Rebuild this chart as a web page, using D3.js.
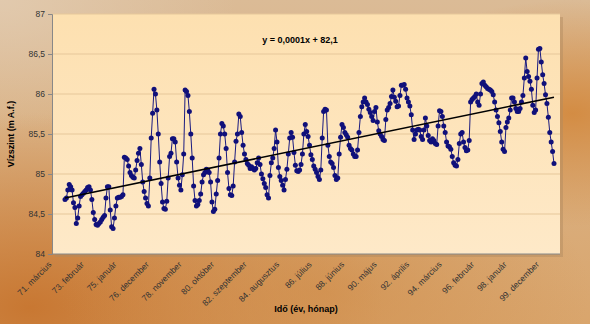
<!DOCTYPE html>
<html><head><meta charset="utf-8">
<script src="https://cdn.jsdelivr.net/npm/d3@7/dist/d3.min.js"></script>
<style>html,body{margin:0;padding:0;background:#d9b287;}svg{display:block;}</style>
</head><body>
<svg id="chart" width="590" height="324"></svg>
<script>
// ---- data ----
const values = [
84.68,84.70,84.80,84.87,84.84,84.80,84.64,84.58,84.38,84.45,
84.60,84.72,84.74,84.76,84.78,84.80,84.83,84.84,84.80,84.68,
84.52,84.43,84.37,84.36,84.38,84.40,84.43,84.46,84.48,84.70,
84.84,84.84,84.55,84.34,84.32,84.45,84.60,84.70,84.71,84.71,
84.72,84.74,85.21,85.20,85.18,85.10,85.02,84.98,84.96,84.95,
85.05,85.17,85.26,85.32,85.12,84.90,84.78,84.70,84.63,84.60,
84.95,85.45,85.76,86.06,86.00,85.80,85.50,85.15,84.88,84.65,
84.57,84.56,84.66,84.95,85.22,85.26,85.44,85.44,85.40,85.15,
84.95,84.86,84.80,84.99,85.25,86.05,86.03,85.98,85.78,85.50,
85.20,84.85,84.67,84.60,84.62,84.67,84.75,84.90,84.99,85.02,
85.06,85.05,85.02,84.90,84.65,84.53,84.56,84.75,84.92,85.20,
85.50,85.63,85.60,85.50,85.32,85.02,84.82,84.74,84.73,84.85,
85.15,85.41,85.50,85.75,85.72,85.52,85.36,85.25,85.18,85.13,
85.11,85.07,85.09,85.07,85.05,85.07,85.14,85.20,85.12,85.00,
84.94,84.88,84.83,84.74,84.70,84.98,85.14,85.20,85.32,85.55,
85.40,85.08,84.97,84.92,84.86,84.80,84.93,85.06,85.25,85.45,
85.52,85.46,85.27,85.11,85.04,85.03,85.05,85.12,85.25,85.50,
85.62,85.53,85.47,85.36,85.24,85.18,85.10,85.06,85.02,84.97,
84.93,85.05,85.45,85.78,85.81,85.80,85.36,85.22,85.15,85.13,
85.08,84.98,84.93,84.95,85.25,85.46,85.62,85.58,85.52,85.49,
85.46,85.36,85.32,85.30,85.25,85.22,85.22,85.30,85.52,85.72,
85.84,85.90,85.95,85.90,85.87,85.81,85.77,85.72,85.67,85.78,
85.83,85.65,85.54,85.50,85.47,85.43,85.42,85.68,85.80,85.83,
85.88,85.97,86.05,85.96,85.91,85.84,85.85,85.98,86.11,86.11,
86.12,86.06,85.95,85.90,85.85,85.74,85.55,85.43,85.50,85.55,
85.56,85.55,85.47,85.43,85.55,85.70,85.60,85.48,85.42,85.40,
85.44,85.42,85.38,85.37,85.60,85.79,85.78,85.72,85.60,85.52,
85.40,85.35,85.34,85.31,85.22,85.14,85.11,85.10,85.18,85.38,
85.50,85.52,85.40,85.33,85.29,85.30,85.42,85.90,85.93,85.95,
85.97,86.00,85.90,85.86,86.00,86.13,86.15,86.11,86.09,86.07,
86.06,86.05,86.03,85.99,85.90,85.80,85.72,85.64,85.53,85.40,
85.31,85.28,85.58,85.65,85.70,85.80,85.95,85.95,85.90,85.82,
85.78,85.78,85.82,85.90,85.98,86.20,86.45,86.28,86.22,86.16,
86.06,85.86,85.77,85.80,86.20,86.56,86.57,86.40,86.24,86.13,
85.99,85.88,85.71,85.52,85.40,85.28,85.13
];
const tickIndex = [0,23,46,69,92,115,138,161,184,207,230,253,276,299,322,345];
const tickLabels = ["71. március","73. február","75. január","76. december","78. november",
  "80. október","82. szeptember","84. augusztus","86. július","88. június","90. május",
  "92. április","94. március","96. február","98. január","99. december"];
const yTicks = [84,84.5,85,85.5,86,86.5,87];
const trendEnds = [84.70, 85.96];
const equation = "y = 0,0001x + 82,1";
const yTitle = "Vízszint (m A.f.)";
const xTitle = "Idő (év, hónap)";

// ---- drawing ----
const svg = d3.select("#chart");
const W = 590, H = 324;
const plot = {l:52, r:560, t:14, b:254};
const defs = svg.append("defs");

const bg = defs.append("linearGradient").attr("id","bgLin").attr("x1",0).attr("y1",0).attr("x2",0).attr("y2",1);
bg.append("stop").attr("offset","0%").attr("stop-color","#dbbb96");
bg.append("stop").attr("offset","100%").attr("stop-color","#d9a56c");
const r1 = defs.append("radialGradient").attr("id","rg1").attr("cx","0.05").attr("cy","0.95").attr("r","0.6");
r1.append("stop").attr("offset","0%").attr("stop-color","#c7752f").attr("stop-opacity",0.95);
r1.append("stop").attr("offset","100%").attr("stop-color","#c7752f").attr("stop-opacity",0);
const r2 = defs.append("radialGradient").attr("id","rg2").attr("cx","0.97").attr("cy","0.35").attr("r","0.35");
r2.append("stop").attr("offset","0%").attr("stop-color","#d38a40").attr("stop-opacity",0.95);
r2.append("stop").attr("offset","100%").attr("stop-color","#d38a40").attr("stop-opacity",0);
const r3 = defs.append("radialGradient").attr("id","rg3").attr("cx","0.55").attr("cy","0.9").attr("r","0.45");
r3.append("stop").attr("offset","0%").attr("stop-color","#cf8a45").attr("stop-opacity",0.6);
r3.append("stop").attr("offset","100%").attr("stop-color","#cf8a45").attr("stop-opacity",0);
const r4 = defs.append("radialGradient").attr("id","rg4").attr("cx","0.0").attr("cy","0.0").attr("r","0.4");
r4.append("stop").attr("offset","0%").attr("stop-color","#e2cbb0").attr("stop-opacity",0.9);
r4.append("stop").attr("offset","100%").attr("stop-color","#e2cbb0").attr("stop-opacity",0);
const pg = defs.append("linearGradient").attr("id","plotG").attr("x1",0).attr("y1",0).attr("x2",0).attr("y2",1);
pg.append("stop").attr("offset","0%").attr("stop-color","#fde0b0");
pg.append("stop").attr("offset","100%").attr("stop-color","#fee9c8");

svg.append("rect").attr("width",W).attr("height",H).attr("fill","url(#bgLin)");
["rg1","rg2","rg3","rg4"].forEach(id=>svg.append("rect").attr("width",W).attr("height",H).attr("fill",`url(#${id})`));

// plot shadow
svg.append("rect").attr("x",plot.l+3).attr("y",plot.t+3).attr("width",plot.r-plot.l).attr("height",plot.b-plot.t)
  .attr("fill","#b08a60").attr("opacity",0.45);
svg.append("rect").attr("x",plot.l).attr("y",plot.t).attr("width",plot.r-plot.l).attr("height",plot.b-plot.t)
  .attr("fill","url(#plotG)");

const x = d3.scaleLinear().domain([0, values.length-1]).range([65, 554]);
const y = d3.scaleLinear().domain([84,87]).range([plot.b, plot.t]);

// gridlines
svg.append("g").selectAll("line").data(yTicks.filter(v=>v>84)).join("line")
  .attr("x1",plot.l).attr("x2",plot.r).attr("y1",d=>y(d)).attr("y2",d=>y(d))
  .attr("stroke","#e6c79a").attr("stroke-width",1);

// y axis
const yAxis = d3.axisLeft(y).tickValues(yTicks).tickSize(4).tickFormat(d=>String(d).replace(".",","));
const ya = svg.append("g").attr("transform",`translate(${plot.l},0)`).call(yAxis);
ya.select(".domain").attr("stroke","#888");
ya.selectAll(".tick line").attr("stroke","#888");
ya.selectAll("text").attr("font-family","Liberation Sans, Arial, sans-serif").attr("font-size",8.5).attr("fill","#333");

// x axis line
svg.append("line").attr("x1",plot.l).attr("x2",plot.r).attr("y1",plot.b).attr("y2",plot.b).attr("stroke","#888");

// x tick labels
svg.append("g").selectAll("text").data(tickIndex).join("text")
  .attr("transform",(d)=>`translate(${x(d)-15},${plot.b+9}) rotate(-45)`)
  .attr("text-anchor","end").attr("dy","0.35em")
  .attr("font-family","Liberation Sans, Arial, sans-serif").attr("font-size",8.5).attr("fill","#333")
  .text((d,i)=>tickLabels[i]);

// data line
const line = d3.line().x((d,i)=>x(i)).y(d=>y(d));
svg.append("path").datum(values).attr("d",line).attr("fill","none").attr("stroke","#1a1a80").attr("stroke-width",1);
svg.append("g").selectAll("circle").data(values).join("circle")
  .attr("cx",(d,i)=>x(i)).attr("cy",d=>y(d)).attr("r",2.5).attr("fill","#10107a");

// trend line
svg.append("line").attr("x1",x(0)).attr("x2",x(values.length-1))
  .attr("y1",y(trendEnds[0])).attr("y2",y(trendEnds[1]))
  .attr("stroke","#000").attr("stroke-width",1.6);

// texts
svg.append("text").attr("x",300).attr("y",43).attr("text-anchor","middle")
  .attr("font-family","Liberation Sans, Arial, sans-serif").attr("font-size",9).attr("font-weight","bold").attr("fill","#000")
  .text(equation);
svg.append("text").attr("transform",`translate(14,${(plot.t+plot.b)/2}) rotate(-90)`).attr("text-anchor","middle")
  .attr("font-family","Liberation Sans, Arial, sans-serif").attr("font-size",9).attr("font-weight","bold").attr("fill","#000")
  .text(yTitle);
svg.append("text").attr("x",306).attr("y",312).attr("text-anchor","middle")
  .attr("font-family","Liberation Sans, Arial, sans-serif").attr("font-size",9).attr("font-weight","bold").attr("fill","#000")
  .text(xTitle);
</script>
</body></html>
